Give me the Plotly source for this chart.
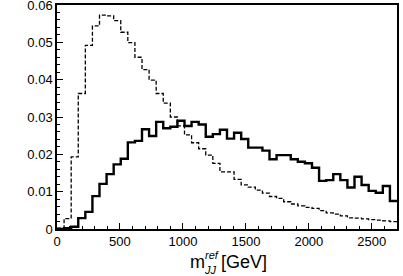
import numpy as np
import plotly.graph_objects as go

# Histogram binning: 48 bins from 0 to 2700 GeV
bin_edges = np.linspace(0, 2700, 49)

# Dashed histogram values (normalized)
dashed_vals = [
    0.0002, 0.0028, 0.0193, 0.0363, 0.0492, 0.0544, 0.0573, 0.0571, 0.0558, 0.0527,
    0.0499, 0.0460, 0.0427, 0.0399, 0.0363, 0.0337, 0.0300, 0.0276, 0.0252, 0.0231,
    0.0215, 0.0198, 0.0176, 0.0153, 0.0153, 0.0133, 0.0118, 0.0112, 0.0104, 0.0096,
    0.0087, 0.0082, 0.0073, 0.0067, 0.0062, 0.0058, 0.0055, 0.0049, 0.0043, 0.0040,
    0.0035, 0.0030, 0.0029, 0.0027, 0.0025, 0.0024, 0.0022, 0.0020,
]

# Solid histogram values (normalized)
solid_vals = [
    0.0000, 0.0002, 0.0006, 0.0029, 0.0046, 0.0088, 0.0121, 0.0147, 0.0173, 0.0188,
    0.0232, 0.0236, 0.0267, 0.0249, 0.0287, 0.0270, 0.0274, 0.0290, 0.0276, 0.0287,
    0.0280, 0.0247, 0.0254, 0.0266, 0.0242, 0.0258, 0.0241, 0.0218, 0.0218, 0.0210,
    0.0187, 0.0198, 0.0198, 0.0187, 0.0180, 0.0176, 0.0164, 0.0129, 0.0131, 0.0147,
    0.0131, 0.0111, 0.0140, 0.0118, 0.0102, 0.0097, 0.0115, 0.0075,
]

x_ticks = [0, 500, 1000, 1500, 2000, 2500]
y_ticks = [0, 0.01, 0.02, 0.03, 0.04, 0.05, 0.06]
y_tick_labels = ["0", "0.01", "0.02", "0.03", "0.04", "0.05", "0.06"]


def step_xy(edges, vals):
    xs = list(edges)
    ys = list(vals) + [vals[-1]]
    return xs, ys


fig = go.Figure()

xd, yd = step_xy(bin_edges, dashed_vals)
fig.add_trace(go.Scatter(x=xd, y=yd, mode="lines", line_shape="hv",
                         line=dict(color="black", width=1.3, dash="4px,2px"),
                         showlegend=False, hoverinfo="skip"))

xs, ys = step_xy(bin_edges, solid_vals)
fig.add_trace(go.Scatter(x=xs, y=ys, mode="lines", line_shape="hv",
                         line=dict(color="black", width=2.4),
                         showlegend=False, hoverinfo="skip"))

font_family = "Liberation Sans, Arial, Helvetica, sans-serif"

fig.update_layout(
    width=403, height=276,
    margin=dict(l=57, r=6, t=5, b=47, autoexpand=False),
    paper_bgcolor="white", plot_bgcolor="white",
    font=dict(family=font_family, color="black", size=13),
    xaxis=dict(
        range=[0, 2700], showgrid=False, zeroline=False, automargin=False,
        showline=True, linecolor="black", linewidth=1.5, mirror=True,
        ticks="inside", ticklen=6, tickwidth=1, tickcolor="black",
        tickvals=x_ticks, ticktext=[str(v) for v in x_ticks],
        tickfont=dict(size=13), ticklabeloverflow="allow",
        minor=dict(dtick=100, ticks="inside", ticklen=3, tickcolor="black", tickwidth=1),
    ),
    yaxis=dict(
        range=[0, 0.06], showgrid=False, zeroline=False, automargin=False,
        showline=True, linecolor="black", linewidth=1.5, mirror=True,
        ticks="inside", ticklen=6, tickwidth=1, tickcolor="black",
        tickvals=y_ticks, ticktext=y_tick_labels,
        tickfont=dict(size=13), ticklabeloverflow="allow",
        minor=dict(dtick=0.002, ticks="inside", ticklen=3, tickcolor="black", tickwidth=1),
    ),
)

# x-axis title: m with stacked superscript "ref" and subscript "JJ", then [GeV]
title_parts = [
    dict(text="m", x=(188 - 57) / 340, y=(229 - 262) / 224, size=18),
    dict(text="<i>ref</i>", x=(203 - 57) / 340, y=(229 - 255) / 224, size=11),
    dict(text="<i>JJ</i>", x=(202 - 57) / 340, y=(229 - 270) / 224, size=11),
    dict(text="[GeV]", x=(219 - 57) / 340, y=(229 - 262) / 224, size=18),
]
for p in title_parts:
    fig.add_annotation(text=p["text"], x=p["x"], y=p["y"], xref="paper", yref="paper",
                       xanchor="left", yanchor="middle", showarrow=False,
                       font=dict(size=p["size"], family=font_family, color="black"))

fig.write_html("out.html", config={"displayModeBar": False},
               post_script="document.body.style.margin='0px';document.body.style.padding='0px';")
